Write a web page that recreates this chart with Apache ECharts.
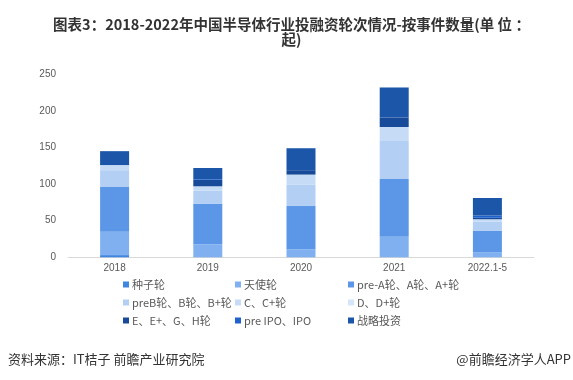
<!DOCTYPE html>
<html>
<head>
<meta charset="utf-8">
<script src="https://cdn.jsdelivr.net/npm/echarts@6/dist/echarts.min.js"></script>
<style>
html,body{margin:0;padding:0;background:#fff;}
#c{width:573px;height:380px;}
</style>
</head>
<body>
<div id="c"></div>
<script>
var categories = ['2018', '2019', '2020', '2021', '2022.1-5'];
var seriesNames = ['种子轮', '天使轮', 'pre-A轮、A轮、A+轮', 'preB轮、B轮、B+轮', 'C、C+轮', 'D、D+轮', 'E、E+、G、H轮', 'pre IPO、IPO', '战略投资'];
var seed      = [3, 0, 0, 0, 0];
var angel     = [32, 18, 11, 28, 7];
var roundA    = [61, 55, 59, 79, 29];
var roundB    = [23, 18, 29, 53, 13];
var roundC    = [7, 6, 14, 18, 3];
var roundD    = [0, 0, 0, 0, 0];
var roundE    = [0, 9, 6, 13, 2];
var ipo       = [0, 1, 0, 0, 3];
var strategic = [19, 15, 30, 41, 24];
var yTicks = [0, 50, 100, 150, 200, 250];

var allData = [seed, angel, roundA, roundB, roundC, roundD, roundE, ipo, strategic];
var colors = ['#3f86e0', '#80b0f0', '#5b97e6', '#b3cff4', '#c6dcf6', '#d3e6fa', '#174a98', '#1f62cc', '#1b56a8'];

var chart = echarts.init(document.getElementById('c'), null, {renderer: 'canvas'});

var series = seriesNames.map(function (n, i) {
  return {
    name: n,
    type: 'bar',
    stack: 'total',
    barWidth: 29,
    data: allData[i],
    itemStyle: {color: colors[i]}
  };
});

var legendPos = [
  [123, 279], [235, 279], [348, 279],
  [123, 297], [235, 297], [348, 297],
  [123, 315], [235, 315], [348, 315]
];
var legends = seriesNames.map(function (n, i) {
  return {
    data: [n],
    left: legendPos[i][0],
    top: legendPos[i][1],
    icon: 'rect',
    itemWidth: 6,
    itemHeight: 6,
    itemGap: 0,
    padding: 0,
    selectedMode: false,
    textStyle: {fontSize: 11, color: '#595959', fontFamily: 'Noto Sans CJK SC', padding: [0, 0, 0, -2]}
  };
});

chart.setOption({
  animation: false,
  backgroundColor: '#ffffff',
  color: colors,
  title: {
    text: '图表3：2018-2022年中国半导体行业投融资轮次情况-按事件数量(单 位 ：\n起)',
    left: 286.5,
    top: 12,
    textAlign: 'center',
    textStyle: {fontSize: 14.5, fontWeight: 'bold', color: '#333333', fontFamily: 'Noto Sans CJK SC', lineHeight: 15, align: 'center'}
  },
  legend: legends,
  grid: {left: 68, right: 39, top: 74.3, bottom: 122.7, containLabel: false},
  xAxis: {
    type: 'category',
    data: categories,
    axisLine: {lineStyle: {color: '#d9d9d9', width: 1}},
    axisTick: {show: false},
    axisLabel: {fontSize: 10, color: '#595959', margin: 6, fontFamily: 'Liberation Sans'}
  },
  yAxis: {
    type: 'value',
    min: yTicks[0],
    max: yTicks[yTicks.length - 1],
    interval: 50,
    axisLine: {show: false},
    axisTick: {show: false},
    splitLine: {show: false},
    axisLabel: {fontSize: 10, color: '#595959', margin: 12, fontFamily: 'Liberation Sans'}
  },
  graphic: [
    {type: 'text', left: 8, top: 353, style: {text: '资料来源：IT桔子 前瞻产业研究院', fontSize: 13, fill: '#333333', fontFamily: 'Noto Sans CJK SC'}},
    {type: 'text', right: 2, top: 353, style: {text: '@前瞻经济学人APP', fontSize: 13, fill: '#333333', fontFamily: 'Noto Sans CJK SC'}}
  ],
  series: series
});
</script>
</body>
</html>
